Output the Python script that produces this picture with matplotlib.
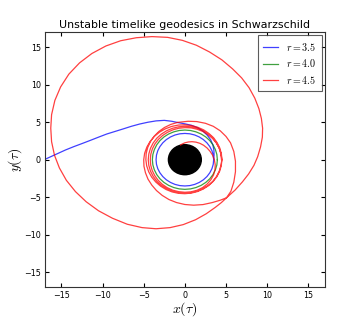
import matplotlib
matplotlib.use('Agg')
import matplotlib.pyplot as plt
from matplotlib.patches import Circle

plt.rcParams['mathtext.fontset'] = 'cm'

# horizon radius (M = 1)
r_horizon = 2.0

# r = 3.5 : one whirl, then escapes to the left
blue_x = [3.5, 3.45, 3.29, 3.03, 2.68, 2.25, 1.75, 1.2, 0.61, 0, -0.61, -1.2, -1.75, -2.25, -2.68,
          -3.03, -3.29, -3.45, -3.5, -3.45, -3.29, -3.03, -2.68, -2.25, -1.75, -1.2, -0.61, 0,
          0.61, 1.2, 1.75, 2.25, 2.68, 3.03, 3.29, 3.45, 3.5,
          3.55, 3.53, 3.4, 3.14, 2.73, 2.2, 1.55, 0.81, 0, -0.86, -1.6, -2.5, -3.5, -4.5, -5.5,
          -6.5, -7.5, -8.5, -9.5, -10.5, -11.5, -12.5, -13.5, -14.5, -15.5, -16.5, -17.5]
blue_y = [0, 0.61, 1.2, 1.75, 2.25, 2.68, 3.03, 3.29, 3.45, 3.5, 3.45, 3.29, 3.03, 2.68, 2.25,
          1.75, 1.2, 0.61, 0, -0.61, -1.2, -1.75, -2.25, -2.68, -3.03, -3.29, -3.45, -3.5,
          -3.45, -3.29, -3.03, -2.68, -2.25, -1.75, -1.2, -0.61, 0,
          0.63, 1.28, 1.97, 2.64, 3.26, 3.81, 4.26, 4.58, 4.78, 4.95, 5.12, 5.24, 5.17, 4.99, 4.75,
          4.45, 4.1, 3.76, 3.42, 3.0, 2.57, 2.15, 1.74, 1.3, 0.8, 0.3, -0.2]

# r = 4.0 : stays on the circle
green_x = [3.95, 3.89, 3.71, 3.42, 3.03, 2.54, 1.98, 1.35, 0.69, 0, -0.69, -1.35, -1.98, -2.54,
           -3.03, -3.42, -3.71, -3.89, -3.95, -3.89, -3.71, -3.42, -3.03, -2.54, -1.98, -1.35,
           -0.69, 0, 0.69, 1.35, 1.98, 2.54, 3.03, 3.42, 3.71, 3.89, 3.95]
green_y = [0, 0.69, 1.35, 1.98, 2.54, 3.03, 3.42, 3.71, 3.89, 3.95, 3.89, 3.71, 3.42, 3.03,
           2.54, 1.98, 1.35, 0.69, 0, -0.69, -1.35, -1.98, -2.54, -3.03, -3.42, -3.71,
           -3.89, -3.95, -3.89, -3.71, -3.42, -3.03, -2.54, -1.98, -1.35, -0.69, 0]

# r = 4.5 : whirl, zoom out, whirl again, plunge
red_x = [
    # first whirl
    4.45, 4.38, 4.18, 3.85, 3.41, 2.86, 2.23, 1.52, 0.77, 0, -0.77, -1.52, -2.23, -2.86, -3.41,
    -3.85, -4.18, -4.38, -4.45, -4.38, -4.18, -3.85, -3.41, -2.86, -2.23, -1.52, -0.77, 0,
    0.77, 1.52, 2.23, 2.86, 3.41, 3.85, 4.18, 4.38,
    # drifting outwards
    4.5, 4.44, 4.25, 3.92, 3.49, 2.93, 2.29, 1.57, 0.8, 0, -0.81, -1.61, -2.38, -3.08, -3.7,
    -4.22, -4.62, -4.89, -5.0, -4.97, -4.79, -4.48, -4.02, -3.45, -2.75, -1.93, -1.01, 0, 1.07,
    2.2, 3.3, 4.3, 5.07,
    # zoom out
    6.1, 7.0, 7.75, 8.4, 8.85, 9.2, 9.42, 9.45, 9.3, 9.0, 8.5, 7.8, 6.9, 5.8, 4.5, 3.0, 1.4,
    -0.3, -2.1, -4.0, -5.9, -7.8, -9.6, -11.3, -12.8, -14.1, -15.1, -15.8, -16.2, -16.3, -16.2,
    -15.85, -15.25, -14.4, -13.3, -12.0, -10.5, -8.8, -7.0, -5.2, -3.5, -1.8, -0.2, 1.3, 2.6,
    3.7, 4.45, 5.07,
    # coming back in
    5.6, 5.95, 6.15, 6.15, 5.95, 5.55, 5.0, 4.3, 3.45, 2.5, 1.45, 0.4,
    -0.88, -1.71, -2.48, -3.16, -3.73, -4.18, -4.51, -4.7, -4.74, -4.64, -4.4, -4.03, -3.54,
    -2.96, -2.29, -1.56, -0.79, 0, 0.79, 1.54, 2.25, 2.89, 3.45, 3.9, 4.23, 4.43,
    # last whirl
    4.5, 4.4, 4.18, 3.83, 3.37, 2.81, 2.18, 1.48, 0.75, 0, -0.74, -1.45, -2.11, -2.71, -3.22,
    -3.64, -3.95, -4.14, -4.2, -4.15, -3.97, -3.66, -3.26, -2.75, -2.15, -1.48, -0.75, 0,
    0.76, 1.48, 2.15, 2.72, 3.17, 3.49, 3.66, 3.69,
    # plunge
    3.58, 3.37, 3.06, 2.7, 2.28, 1.83, 1.35, 0.87, 0.42, 0, -0.36, -0.52]
red_y = [
    0, 0.77, 1.52, 2.23, 2.86, 3.41, 3.85, 4.18, 4.38, 4.45, 4.38, 4.18, 3.85, 3.41, 2.86,
    2.23, 1.52, 0.77, 0, -0.77, -1.52, -2.23, -2.86, -3.41, -3.85, -4.18, -4.38, -4.45,
    -4.38, -4.18, -3.85, -3.41, -2.86, -2.23, -1.52, -0.77,
    0, 0.78, 1.55, 2.27, 2.93, 3.49, 3.97, 4.32, 4.55, 4.65, 4.61, 4.43, 4.11, 3.67, 3.11,
    2.44, 1.68, 0.86, 0, -0.88, -1.74, -2.59, -3.38, -4.11, -4.76, -5.31, -5.71, -5.97, -6.06,
    -5.98, -5.72, -5.4, -5.07,
    -4.05, -2.95, -1.9, -0.75, 0.4, 1.7, 3.0, 4.2, 5.5, 6.8, 8.2, 9.6, 10.9, 12.1, 13.3, 14.35,
    15.25, 15.9, 16.3, 16.4, 16.25, 15.85, 15.15, 14.15, 12.9, 11.4, 9.7, 7.9, 6.0, 4.2, 2.4,
    0.6, -1.1, -2.75, -4.25, -5.6, -6.8, -7.8, -8.6, -9.05, -9.2, -9.05, -8.65, -8.0, -7.2,
    -6.35, -5.7, -5.07,
    -4.2, -3.0, -1.6, -0.2, 1.1, 2.25, 3.1, 3.85, 4.45, 4.85, 5.08, 5.12,
    4.97, 4.7, 4.29, 3.76, 3.13, 2.42, 1.64, 0.83, 0, -0.82, -1.6, -2.33, -2.97,
    -3.52, -3.97, -4.29, -4.48, -4.53, -4.45, -4.24, -3.9, -3.45, -2.89, -2.25, -1.54, -0.78,
    0, 0.78, 1.52, 2.21, 2.83, 3.35, 3.77, 4.06, 4.24, 4.27, 4.19, 3.98, 3.65, 3.22, 2.7,
    2.1, 1.44, 0.73, 0, -0.73, -1.44, -2.12, -2.73, -3.27, -3.72, -4.06, -4.26, -4.34,
    -4.28, -4.07, -3.72, -3.24, -2.66, -2.02, -1.33, -0.65,
    0, 0.6, 1.12, 1.56, 1.92, 2.18, 2.34, 2.4, 2.36, 2.25, 2.07, 1.95]

labels = ['$r = 3.5$', '$r = 4.0$', '$r = 4.5$']

fig = plt.figure(figsize=(3.6, 3.21), dpi=100)
ax = fig.add_axes([0.125, 0.105, 0.777, 0.795])

ax.plot(blue_x, blue_y, color='b', lw=0.9, alpha=0.75, label=labels[0])
ax.plot(green_x, green_y, color='g', lw=0.9, alpha=0.75, label=labels[1])
ax.plot(red_x, red_y, color='r', lw=0.9, alpha=0.75, label=labels[2])
ax.add_patch(Circle((0, 0), r_horizon, color='k'))

ax.set_xlim(-17, 17)
ax.set_ylim(-17, 17)
ax.set_xticks([-15, -10, -5, 0, 5, 10, 15])
ax.set_yticks([-15, -10, -5, 0, 5, 10, 15])
ax.tick_params(direction='in', top=True, right=True, length=3, labelsize=5.8, pad=3)
for s in ax.spines.values():
    s.set_color('#333333')

ax.set_title('Unstable timelike geodesics in Schwarzschild', fontsize=7.9, pad=3)
ax.set_xlabel(r'$x(\tau)$', fontsize=10, labelpad=0)
ax.set_ylabel(r'$y(\tau)$', fontsize=10, labelpad=0)

leg = ax.legend(loc='upper right', fontsize=7.2, fancybox=False, handlelength=1.5,
                borderaxespad=0.3, labelspacing=0.45, handletextpad=0.8, borderpad=0.55)
leg.get_frame().set_edgecolor('#333333')
leg.get_frame().set_linewidth(0.8)

fig.savefig('out.png', dpi=100)
